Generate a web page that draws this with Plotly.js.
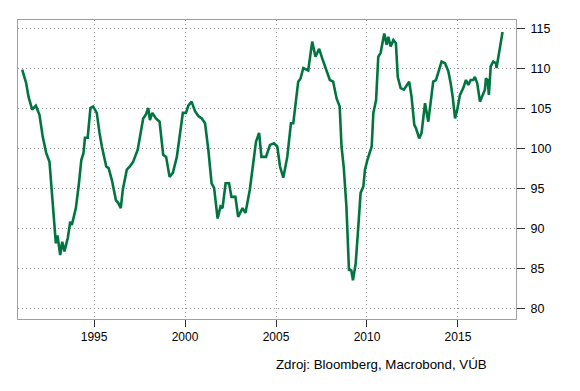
<!DOCTYPE html>
<html><head><meta charset="utf-8">
<script src="https://cdn.plot.ly/plotly-3.0.1.min.js"></script>
<style>body{margin:0;background:#fff}#c{width:580px;height:391px}</style>
</head><body><div id="c"></div>
<script>
const years = [1991.05,1991.27,1991.4,1991.6,1991.8,1992.0,1992.18,1992.37,1992.55,1992.68,1992.77,1992.9,1992.99,1993.14,1993.25,1993.37,1993.56,1993.69,1993.78,1994.0,1994.15,1994.3,1994.42,1994.5,1994.65,1994.8,1994.95,1995.15,1995.3,1995.43,1995.67,1995.8,1995.98,1996.2,1996.34,1996.47,1996.58,1996.8,1996.97,1997.15,1997.4,1997.56,1997.7,1997.84,1997.98,1998.07,1998.2,1998.4,1998.6,1998.8,1998.96,1999.15,1999.33,1999.55,1999.73,1999.88,2000.05,2000.18,2000.36,2000.55,2000.73,2000.92,2001.1,2001.28,2001.46,2001.6,2001.79,2001.95,2002.06,2002.23,2002.42,2002.55,2002.77,2002.92,2003.16,2003.32,2003.56,2003.7,2003.9,2004.07,2004.2,2004.45,2004.67,2004.89,2005.07,2005.22,2005.4,2005.62,2005.82,2005.95,2006.22,2006.35,2006.5,2006.77,2006.99,2007.17,2007.37,2007.54,2007.78,2007.96,2008.14,2008.33,2008.5,2008.6,2008.72,2008.87,2009.01,2009.14,2009.23,2009.38,2009.5,2009.65,2009.8,2009.89,2010.02,2010.26,2010.35,2010.5,2010.62,2010.75,2010.95,2011.08,2011.17,2011.3,2011.45,2011.59,2011.69,2011.85,2012.03,2012.32,2012.45,2012.6,2012.69,2012.87,2013.0,2013.19,2013.37,2013.5,2013.64,2013.79,2013.92,2014.1,2014.29,2014.47,2014.6,2014.71,2014.84,2014.96,2015.11,2015.29,2015.44,2015.57,2015.7,2015.84,2015.93,2016.06,2016.21,2016.35,2016.48,2016.54,2016.63,2016.7,2016.8,2016.94,2017.09,2017.12,2017.27,2017.39,2017.45];
const values = [109.9,108.2,106.5,104.9,105.4,104.25,101.5,99.5,98.4,94.5,92.4,88.2,89.2,86.75,88.4,87.2,88.9,90.9,90.5,92.6,95.3,98.6,99.5,101.4,101.4,105.1,105.3,104.5,102,100.3,97.8,97.6,96.1,93.6,93.2,92.6,94.9,97.4,97.8,98.4,99.9,101.75,103.8,104.25,105.1,103.6,104.5,103.8,103.4,99.25,99,96.5,97,99,102,104.5,104.5,105.4,105.9,104.7,104.1,103.8,103.2,99.9,95.7,95.1,91.3,92.8,92.6,95.7,95.7,94,94,91.5,92.6,92,94.9,97.4,100.9,102,99,99,100.5,100.7,100.3,97.8,96.4,99,103.2,103.2,108.4,108.8,110.1,109.8,113.4,111.5,112.5,111.3,109.9,108.6,108.4,106.3,105.3,100.3,97.8,92.8,84.9,84.8,83.6,85.7,89.5,94.5,95.3,97.4,98.6,100.3,104.5,106.1,111.5,112,114.4,113,114,112.8,113.6,113.2,109,107.6,107.4,108.4,106.5,103,102.6,101.3,102,105.7,103.4,105.9,108.4,108.6,109.5,110.9,110.7,109.7,108.2,106.5,103.8,104.9,106.75,107.6,108.6,108,108.6,108.6,109,108.2,105.9,106.75,107.4,108.8,108.6,106.75,110.3,110.9,110.7,110.1,112.2,113.4,114.6];
const xTicks = [1995,2000,2005,2010,2015];
const yTicks = [80,85,90,95,100,105,110,115];
const source = "Zdroj: Bloomberg, Macrobond, VÚB";

const grid = {showgrid:true, gridcolor:'#8f8f8f', griddash:'1px,3px', gridwidth:1};
Plotly.newPlot('c', [{
  x: years, y: values, type:'scatter', mode:'lines',
  line:{color:'#007540', width:2.6}, hoverinfo:'skip'
}], {
  width:580, height:391,
  margin:{l:18, r:64, t:20, b:72},
  paper_bgcolor:'#fff', plot_bgcolor:'#fff',
  showlegend:false,
  font:{family:'Liberation Sans, Arial, sans-serif', size:12, color:'#000'},
  xaxis: Object.assign({range:[1990.82,2018.19], tickvals:xTicks, ticktext:xTicks.map(String),
    ticks:'outside', ticklen:7, tickcolor:'#333', showline:true, linecolor:'#a0a0a0', mirror:true, zeroline:false,
    tickfont:{size:12}}, grid),
  yaxis: Object.assign({range:[78.75,116.1], side:'right', tickvals:yTicks, ticktext:yTicks.map(String),
    ticks:'outside', ticklen:8, tickcolor:'#333', showline:true, linecolor:'#a0a0a0', mirror:true, zeroline:false,
    ticklabelstandoff:3, tickfont:{size:12.5}}, grid),
  annotations:[{text:source, xref:'paper', yref:'paper', x:(489-18)/498, y:-(365-319)/299, xanchor:'right', yanchor:'middle',
    showarrow:false, font:{size:13.3, color:'#000'}}]
}, {staticPlot:true});
</script></body></html>
